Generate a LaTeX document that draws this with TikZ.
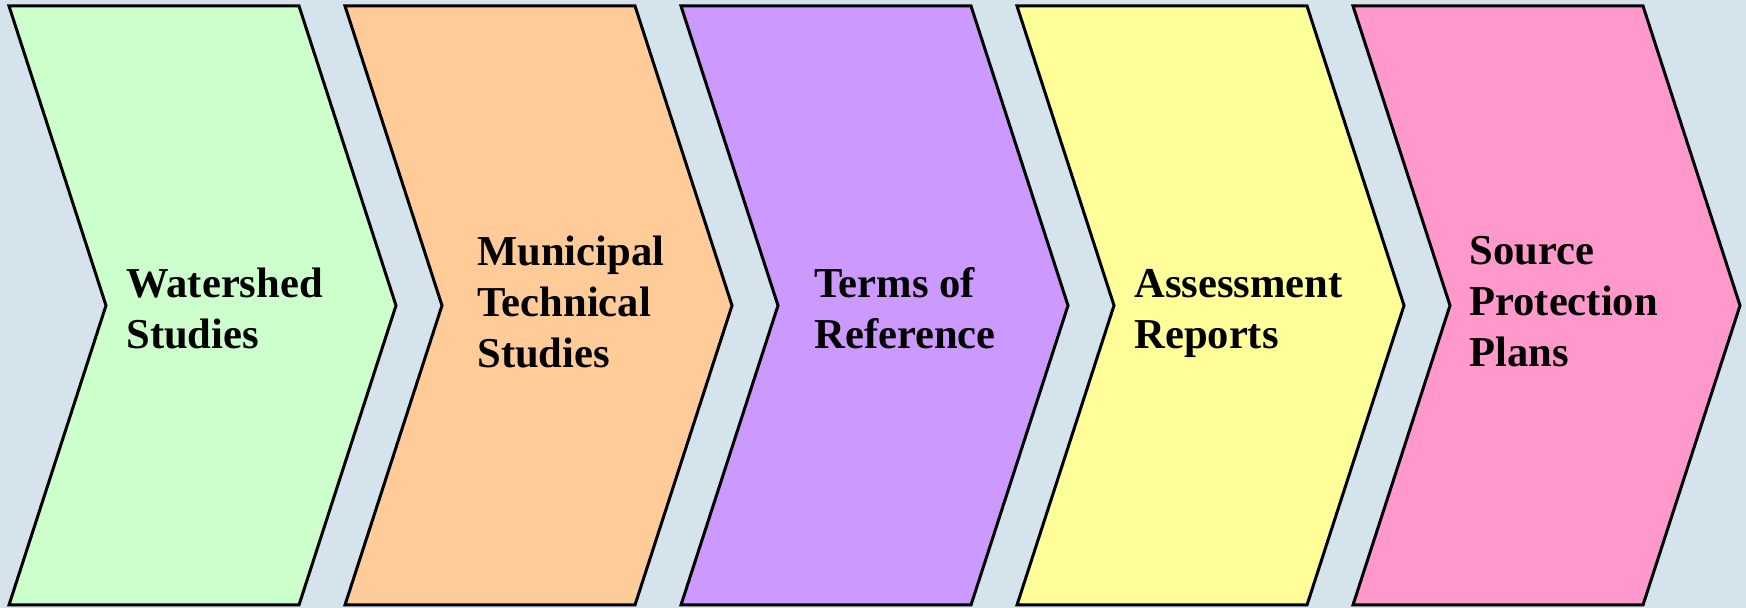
\documentclass[tikz,border=0pt]{standalone}
\usepackage{fontspec}
\setmainfont{Liberation Serif}
\usepackage[usenames,dvipsnames]{xcolor}
\usetikzlibrary{calc}
\definecolor{bgblue}{HTML}{D5E3EC}
\definecolor{stepgreen}{HTML}{CCFFCC}
\definecolor{steporange}{HTML}{FFCC99}
\definecolor{steppurple}{HTML}{CC99FF}
\definecolor{stepyellow}{HTML}{FFFF99}
\definecolor{steppink}{HTML}{FF99CC}
\tikzstyle{chev}=[draw=black, line width=1.5pt, line join=miter]
\tikzstyle{steptext}=[anchor=west, inner sep=0pt, align=left, font=\fontsize{21.3}{25.5}\selectfont\bfseries]

\begin{document}
\begin{tikzpicture}[x=0.5pt,y=-0.5pt]
%\draw[help lines] (0,0) grid (1746,608);
\fill[bgblue] (0,0) rectangle (1746,608);%background

\draw[chev, fill=stepgreen] (9,6) -- (299,6) -- (396,305.5) -- (299,605) -- (9,605) -- (106,305.5) -- cycle;%first chevron
\draw[chev, fill=steporange, xshift=168pt] (9,6) -- (299,6) -- (396,305.5) -- (299,605) -- (9,605) -- (106,305.5) -- cycle;%second chevron
\draw[chev, fill=steppurple, xshift=336pt] (9,6) -- (299,6) -- (396,305.5) -- (299,605) -- (9,605) -- (106,305.5) -- cycle;%third chevron
\draw[chev, fill=stepyellow, xshift=504pt] (9,6) -- (299,6) -- (396,305.5) -- (299,605) -- (9,605) -- (106,305.5) -- cycle;%fourth chevron
\draw[chev, fill=steppink, xshift=672pt] (9,6) -- (299,6) -- (396,305.5) -- (299,605) -- (9,605) -- (106,305.5) -- cycle;%fifth chevron

\node[steptext] (watershed) at (126,308) {Watershed\\Studies};
\node[steptext] (municipal) at (477,301.5) {Municipal\\Technical\\Studies};
\node[steptext] (terms) at (814,308) {Terms of\\Reference};
\node[steptext] (assessment) at (1134,313) {Assessment\\Reports};
\node[steptext] (source) at (1469,302) {Source\\Protection\\Plans};
\end{tikzpicture}
\end{document}
